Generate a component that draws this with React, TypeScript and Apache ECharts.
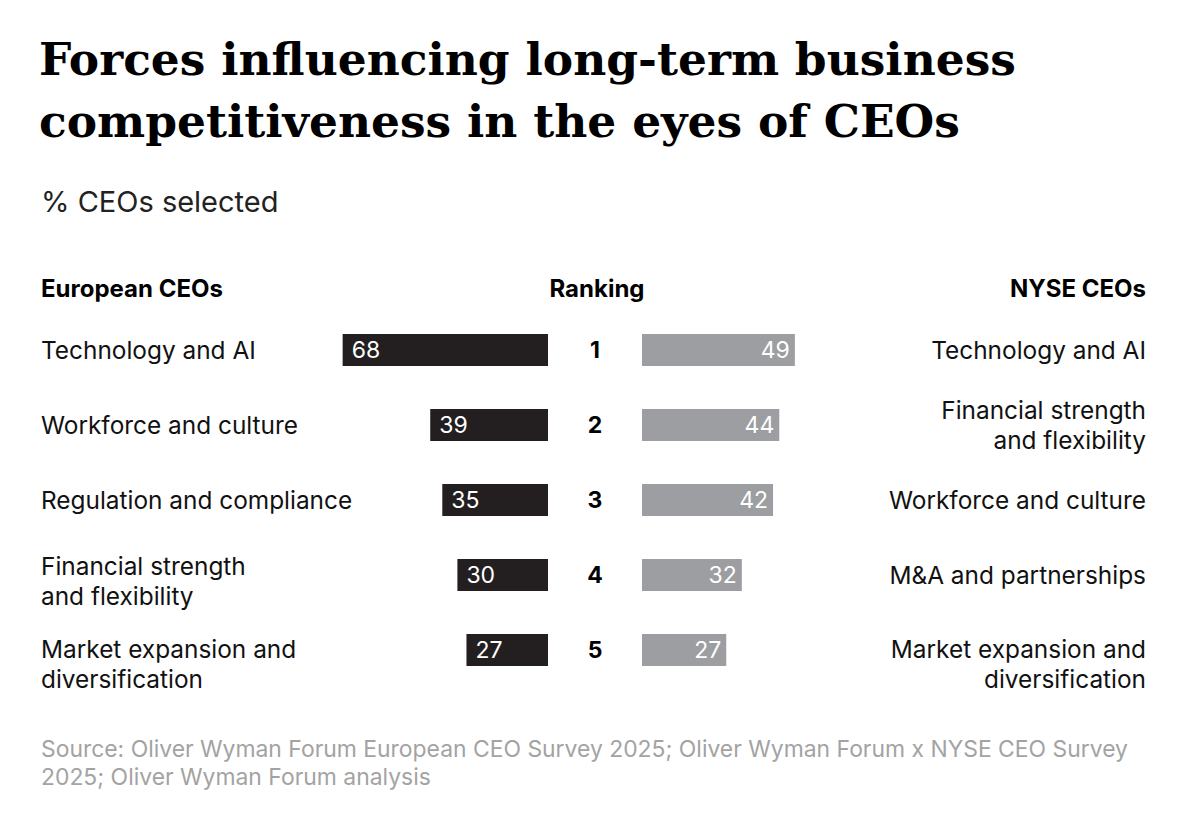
import React, { useEffect, useRef } from "react";
import * as echarts from "echarts";

const ranks = ["1", "2", "3", "4", "5"];
const europeCategories = [
  "Technology and AI",
  "Workforce and culture",
  "Regulation and compliance",
  "Financial strength\nand flexibility",
  "Market expansion and\ndiversification",
];
const europeValues = [68, 39, 35, 30, 27];
const nyseCategories = [
  "Technology and AI",
  "Financial strength\nand flexibility",
  "Workforce and culture",
  "M&A and partnerships",
  "Market expansion and\ndiversification",
];
const nyseValues = [49, 44, 42, 32, 27];

const SANS = "Inter, 'Noto Sans', sans-serif";
const SERIF = "'DejaVu Serif', serif";

export default function App() {
  const ref = useRef<HTMLDivElement>(null);
  useEffect(() => {
    document.body.style.margin = "0";
    const chart = echarts.init(ref.current!, null, { renderer: "svg" });
    const labelFmt = (shift: { [k: string]: number }) => (v: string) => {
      const s = shift[v] || 0;
      return s ? `{s${s}|${v}}` : `{n|${v}}`;
    };
    const richBase = (align: string) => ({
      n: { fontFamily: SANS, fontSize: 24.4, color: "#111", lineHeight: 30, align },
      s6: { fontFamily: SANS, fontSize: 24.4, color: "#111", lineHeight: 30, align, padding: [12, 0, 0, 0] },
      s14: { fontFamily: SANS, fontSize: 24.4, color: "#111", lineHeight: 30, align, padding: [28, 0, 0, 0] },
    });
    chart.setOption({
      animation: false,
      backgroundColor: "#ffffff",
      title: [
        {
          text: "Forces influencing long-term business\ncompetitiveness in the eyes of CEOs",
          left: 39,
          top: 28,
          padding: 0,
          textStyle: { fontFamily: SERIF, fontWeight: "bold", fontSize: 45.5, lineHeight: 62, color: "#000" },
        },
        {
          text: "% CEOs selected",
          left: 41,
          top: 187,
          padding: 0,
          textStyle: { fontFamily: SANS, fontWeight: "normal", fontSize: 29, color: "#222" },
        },
        {
          text: "European CEOs",
          left: 41,
          top: 276,
          padding: 0,
          textStyle: { fontFamily: SANS, fontWeight: "bold", fontSize: 24, color: "#000" },
        },
        {
          text: "Ranking",
          left: 597,
          textAlign: "center",
          top: 276,
          padding: 0,
          textStyle: { fontFamily: SANS, fontWeight: "bold", fontSize: 24, color: "#000" },
        },
        {
          text: "NYSE CEOs",
          right: 56,
          top: 276,
          padding: 0,
          textStyle: { fontFamily: SANS, fontWeight: "bold", fontSize: 24, color: "#000" },
        },
        {
          text: "Source: Oliver Wyman Forum European CEO Survey 2025; Oliver Wyman Forum x NYSE CEO Survey\n2025; Oliver Wyman Forum analysis",
          left: 41,
          top: 735,
          padding: 0,
          textStyle: { fontFamily: SANS, fontWeight: "normal", fontSize: 22.9, lineHeight: 28, color: "#a3a3a3" },
        },
      ],
      grid: [
        { left: 246, right: 654, top: 312.5, height: 375, containLabel: false },
        { left: 642, right: 248, top: 312.5, height: 375, containLabel: false },
      ],
      xAxis: [
        { gridIndex: 0, type: "value", min: 0, max: 100, inverse: true, show: false },
        { gridIndex: 1, type: "value", min: 0, max: 100, show: false },
      ],
      yAxis: [
        {
          gridIndex: 0,
          type: "category",
          data: europeCategories,
          inverse: true,
          position: "left",
          axisLine: { show: false },
          axisTick: { show: false },
          axisLabel: {
            margin: 205,
            align: "left",
            formatter: labelFmt({ "Financial strength\nand flexibility": 6, "Market expansion and\ndiversification": 14 }),
            rich: richBase("left"),
          },
        },
        {
          gridIndex: 1,
          type: "category",
          data: nyseCategories,
          inverse: true,
          position: "right",
          axisLine: { show: false },
          axisTick: { show: false },
          axisLabel: {
            margin: 192,
            align: "right",
            formatter: labelFmt({ "Market expansion and\ndiversification": 14 }),
            rich: richBase("right"),
          },
        },
        {
          gridIndex: 1,
          type: "category",
          data: ranks,
          inverse: true,
          position: "left",
          axisLine: { show: false },
          axisTick: { show: false },
          axisLabel: {
            margin: 47,
            align: "center",
            fontFamily: SANS,
            fontWeight: "bold",
            fontSize: 23,
            color: "#000",
          },
        },
      ],
      series: [
        {
          type: "bar",
          xAxisIndex: 0,
          yAxisIndex: 0,
          data: europeValues,
          barWidth: 32,
          itemStyle: { color: "#231f20" },
          label: {
            show: true,
            position: "insideLeft",
            distance: 9,
            color: "#fff",
            fontFamily: SANS,
            fontSize: 23,
          },
        },
        {
          type: "bar",
          xAxisIndex: 1,
          yAxisIndex: 1,
          data: nyseValues,
          barWidth: 32,
          itemStyle: { color: "#9d9ea1" },
          label: {
            show: true,
            position: "insideRight",
            distance: 5,
            color: "#fff",
            fontFamily: SANS,
            fontSize: 23,
          },
        },
      ],
    });
    return () => chart.dispose();
  }, []);
  return <div ref={ref} style={{ width: 1202, height: 826 }} />;
}
